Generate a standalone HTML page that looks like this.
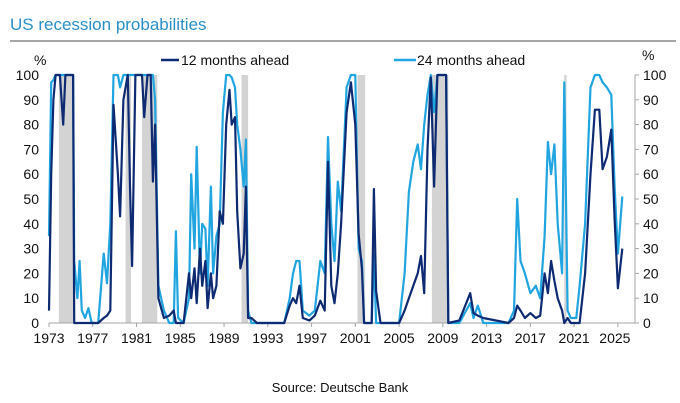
<!DOCTYPE html>
<html><head><meta charset="utf-8"><style>
html,body{margin:0;padding:0;background:#fff;width:680px;height:403px;overflow:hidden;font-family:"Liberation Sans",sans-serif}
</style></head><body>
<svg width="680" height="403" viewBox="0 0 680 403">
<text x="10" y="30" font-size="17" fill="#2a8fc9">US recession probabilities</text>
<line x1="10" y1="41" x2="676" y2="41" stroke="#8a8a8a" stroke-width="1.5"/>
<g id="bands"></g>
<g id="axes"></g>
<g id="series"></g>
<g>
<line x1="161" y1="60" x2="179" y2="60" stroke="#0d2a72" stroke-width="2.5"/>
<text x="181" y="65" font-size="14" fill="#111">12 months ahead</text>
<line x1="394" y1="60" x2="416" y2="60" stroke="#21a5e0" stroke-width="2.5"/>
<text x="417" y="65" font-size="14" fill="#111">24 months ahead</text>
</g>
<text x="340" y="392" font-size="13" fill="#111" text-anchor="middle">Source: Deutsche Bank</text>
</svg>
<script>
const years=[1973.0,1973.2,1973.4,1973.6,1974.0,1974.3,1974.5,1975.2,1975.3,1975.6,1975.8,1976.0,1976.3,1976.6,1976.9,1977.5,1978.0,1978.3,1978.6,1978.9,1979.3,1979.5,1979.8,1980.2,1980.4,1980.6,1980.9,1981.5,1981.7,1982.0,1982.3,1982.5,1982.7,1983.0,1983.5,1984.0,1984.4,1984.6,1984.8,1985.3,1985.8,1986.0,1986.3,1986.5,1986.8,1987.0,1987.3,1987.5,1987.8,1988.0,1988.3,1988.6,1988.9,1989.2,1989.5,1989.7,1990.0,1990.2,1990.5,1990.8,1991.0,1991.2,1991.5,1992.0,1994.5,1995.0,1995.3,1995.6,1995.9,1996.2,1996.8,1997.3,1997.8,1998.2,1998.5,1998.8,1999.1,1999.4,1999.7,2000.2,2000.6,2001.0,2001.3,2001.6,2001.8,2002.5,2002.7,2002.9,2003.3,2005.0,2005.5,2005.9,2006.3,2006.7,2007.0,2007.3,2007.6,2007.9,2008.2,2008.5,2009.3,2009.5,2010.5,2011.5,2011.8,2012.2,2012.7,2015.0,2015.5,2015.8,2016.1,2016.5,2017.0,2017.5,2017.9,2018.3,2018.6,2018.9,2019.2,2019.5,2019.9,2020.1,2020.4,2020.7,2021.2,2021.5,2022.0,2022.5,2022.9,2023.3,2023.6,2024.0,2024.4,2024.7,2025.0,2025.4];
const months12=[5,60,90,100,100,80,100,100,0,0,0,0,0,0,0,0,2,3,5,88,60,43,90,100,55,23,100,100,83,100,100,57,80,10,2,3,5,0,0,0,20,10,22,8,30,15,25,6,20,10,15,45,40,80,94,80,83,45,22,28,55,2,2,0,0,7,10,8,15,2,1,3,9,5,65,15,8,20,40,85,97,80,36,22,0,0,54,13,0,0,5,10,15,20,27,12,70,99,55,100,100,0,1,12,4,3,2,0,2,7,5,2,4,2,3,20,12,25,17,10,5,0,2,0,0,0,20,60,86,86,62,67,78,42,14,30];
const months24=[35,97,98,100,100,100,100,100,25,10,25,5,2,6,0,0,28,16,40,100,100,95,100,100,100,100,100,100,100,100,100,100,90,15,5,0,0,37,2,0,10,60,30,71,20,40,38,15,55,20,35,40,85,100,100,99,95,80,70,55,74,5,0,0,0,10,20,25,25,5,3,5,25,20,75,40,25,57,45,95,100,100,30,25,0,0,28,0,0,0,20,53,65,72,62,80,92,100,85,100,100,0,0,8,2,7,0,0,5,50,25,20,12,15,10,35,73,60,72,40,20,97,5,2,2,15,40,95,100,100,97,95,92,55,28,51];
const recStart=[1973.9,1980.0,1981.5,1990.6,2001.2,2008.0,2020.1];
const recEnd=[1975.2,1980.5,1982.9,1991.2,2001.9,2009.5,2020.3];
const yTicks=[0,10,20,30,40,50,60,70,80,90,100];
const xTicks=[1973,1977,1981,1985,1989,1993,1997,2001,2005,2009,2013,2017,2021,2025];
const NS='http://www.w3.org/2000/svg';
const X0=49,PX=10.94,Y0=323,YH=248,RIGHT=635;
function xs(v){return X0+(v-1973)*PX;}
function ys(v){return Y0-v/100*YH;}
function mk(tag,attrs,parent){const e=document.createElementNS(NS,tag);for(const k in attrs)e.setAttribute(k,attrs[k]);parent.appendChild(e);return e;}
const bands=document.getElementById('bands'),axes=document.getElementById('axes'),series=document.getElementById('series');
recStart.forEach((s,i)=>{
  const r=mk('rect',{x:xs(s),y:ys(100),width:Math.max(2,xs(recEnd[i])-xs(s)),height:YH,fill:'#d3d3d3'},bands);
  
  
});
const xa=mk('line',{x1:X0,y1:Y0,x2:RIGHT,y2:Y0,stroke:'#a6a6a6','stroke-width':1},axes);


const ya=mk('line',{x1:RIGHT,y1:ys(100),x2:RIGHT,y2:Y0,stroke:'#a6a6a6','stroke-width':1},axes);


yTicks.forEach(t=>{
  const y=ys(t);
  const tl=mk('text',{x:39,y:y+5,'font-size':14,'text-anchor':'end',fill:'#111'},axes);tl.textContent=t;
  
  
  const tr=mk('text',{x:643,y:y+5,'font-size':14,fill:'#111'},axes);tr.textContent=t;
  
  
  const tk=mk('line',{x1:RIGHT,y1:y,x2:RIGHT+4,y2:y,stroke:'#a6a6a6'},axes);
  
  
});
const p1=mk('text',{x:34,y:65,'font-size':14,fill:'#111'},axes);p1.textContent='%';


const p2=mk('text',{x:642,y:60,'font-size':14,fill:'#111'},axes);p2.textContent='%';


xTicks.forEach((t,i)=>{
  const x=xs(t);
  const tk=mk('line',{x1:x,y1:Y0,x2:x,y2:Y0+4,stroke:'#a6a6a6'},axes);
  
  
  const lx=(i===xTicks.length-1)?x-3:x;
  const tl=mk('text',{x:lx,y:Y0+20,'font-size':14,'text-anchor':'middle',fill:'#111'},axes);tl.textContent=t;
  
  
});
function path(vals){return vals.map((v,i)=>(i?'L':'M')+xs(years[i]).toFixed(1)+','+ys(v).toFixed(1)).join('');}
const l24=mk('path',{d:path(months24),fill:'none',stroke:'#21a5e0','stroke-width':2.2,'stroke-linejoin':'round'},series);


const l12=mk('path',{d:path(months12),fill:'none',stroke:'#0d2a72','stroke-width':2.2,'stroke-linejoin':'round'},series);


</script>
</body></html>
